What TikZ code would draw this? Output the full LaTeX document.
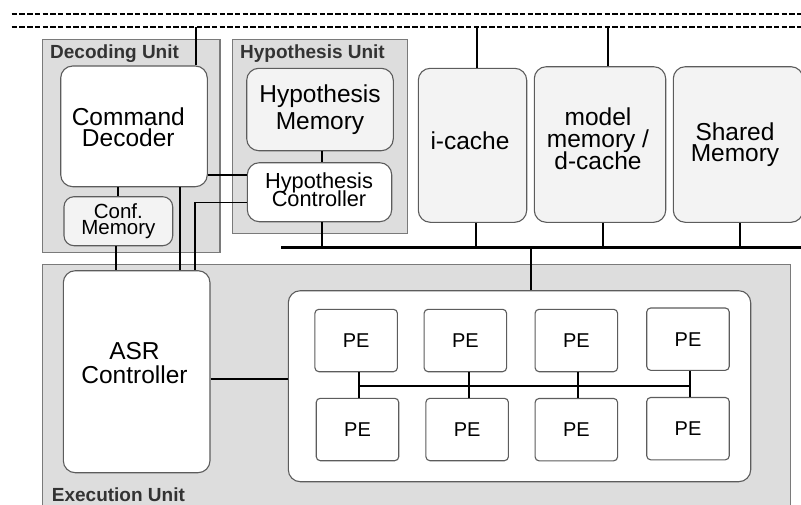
\documentclass[tikz,border=0pt]{standalone}
\usepackage{fontspec}
\setmainfont{Liberation Sans}
\definecolor{unitfill}{HTML}{DDDDDD}
\definecolor{unitline}{HTML}{7A7A7A}
\definecolor{lightfill}{HTML}{F3F3F3}
\definecolor{boxline}{HTML}{5C5C5C}
\definecolor{labelgray}{HTML}{333333}
\newcommand\txtsize[2]{\fontsize{#1}{#2}\selectfont\lineskiplimit=-100pt\relax}
\begin{document}
\begin{tikzpicture}[x=1pt,y=-1pt,
  unitbox/.style={draw=unitline,fill=unitfill,line width=1.1pt,inner sep=0pt},
  whitebox/.style={draw=boxline,fill=white,line width=1.1pt,rounded corners=#1,inner sep=0pt},
  whitebox/.default=12pt,
  lightbox/.style={draw=boxline,fill=lightfill,line width=1.1pt,rounded corners=#1,inner sep=0pt},
  lightbox/.default=12pt,
  pebox/.style={whitebox=4pt,minimum width=82.5pt,minimum height=62.4pt,font=\txtsize{20}{22}},
  txt/.style={align=center,inner sep=0pt},
  unitlabel/.style={anchor=base west,inner sep=0pt,text=labelgray,font=\fontsize{19}{22}\selectfont\bfseries},
  sysbus/.style={line width=2.9pt,dash pattern=on 5.4pt off 2.3pt},
  bus/.style={line width=2.5pt},
  link/.style={line width=2.2pt},
  thinlink/.style={line width=1.5pt}]
\useasboundingbox (0,0) rectangle (801,504);
\clip (0,0) rectangle (801,504);

% system bus (two dashed rails)
\coordinate (sysA1) at (11.7,14);
\coordinate (sysA2) at (801,14);
\coordinate (sysB1) at (11.7,27);
\coordinate (sysB2) at (801,27);
\draw[sysbus] (sysA1) -- (sysA2);
\draw[sysbus] (sysB1) -- (sysB2);

% unit frames
\node[unitbox,minimum width=177.3pt,minimum height=213pt] (decU) at (131.35,145.8) {};
\node[unitbox,minimum width=175pt,minimum height=194pt] (hypU) at (319.8,136.3) {};
\node[unitbox,minimum width=748pt,minimum height=255.3pt] (exeU) at (416.7,392.35) {};
\node[unitlabel] (decL) at (50,58.3) {Decoding Unit};
\node[unitlabel] (hypL) at (240,58.3) {Hypothesis Unit};
\node[unitlabel] (exeL) at (51.7,501.5) {Execution Unit};

% decoding unit
\node[whitebox,minimum width=146.6pt,minimum height=120.7pt] (cd) at (134,126.35) {};
\node[txt,font=\txtsize{24.5}{20.7}] (cdT) at (128.3,127.4) {Command\\Decoder};
\node[lightbox=10pt,minimum width=108.7pt,minimum height=49pt,txt,font=\txtsize{20.5}{16.7}] (cm) at (118.35,221.2) {Conf.\\Memory};

% hypothesis unit
\node[lightbox,minimum width=146.6pt,minimum height=82.4pt,txt,font=\txtsize{24.5}{27}] (hm) at (320,109.5) {Hypothesis\\Memory};
\node[whitebox,minimum width=144.4pt,minimum height=59pt] (hc) at (319.5,192.2) {};
\node[txt,font=\txtsize{21.8}{18.3}] (hcT) at (319,189.5) {Hypothesis\\Controller};

% memories
\node[lightbox,minimum width=108.4pt,minimum height=154pt] (ic) at (472.5,145.3) {};
\node[txt,font=\txtsize{24.5}{21}] (icT) at (470,141) {i-cache};
\node[lightbox,minimum width=131.4pt,minimum height=155.6pt] (mm) at (600,144.5) {};
\node[txt,font=\txtsize{24.5}{21.8}] (mmT) at (598,138.6) {model\\memory /\\d-cache};
\node[lightbox,minimum width=129.7pt,minimum height=155.6pt] (sm) at (738.15,144.5) {};
\node[txt,font=\txtsize{24.5}{21}] (smT) at (735,144.8) {Shared\\Memory};

% execution unit
\node[whitebox,minimum width=146.7pt,minimum height=202pt] (asr) at (136.65,371.7) {};
\node[txt,font=\txtsize{24.5}{24}] (asrT) at (134.5,363) {ASR\\Controller};
\node[whitebox,minimum width=462.4pt,minimum height=191pt] (pec) at (519.5,386.2) {};
\node[pebox] (p11) at (356.15,340.5) {PE};
\node[pebox] (p12) at (465.35,340.5) {PE};
\node[pebox] (p13) at (576.35,340.5) {PE};
\node[pebox] (p14) at (688,339.15) {PE};
\node[pebox] (p21) at (357.5,429.5) {PE};
\node[pebox] (p22) at (467.15,429.5) {PE};
\node[pebox] (p23) at (576.35,429.65) {PE};
\node[pebox] (p24) at (688,428.65) {PE};

% taps on the system bus
\draw[link] ([xshift=62pt]cd.north) -- ([xshift=62pt]cd.north |- sysB1);
\draw[link] ([xshift=4.8pt]ic.north) -- ([xshift=4.8pt]ic.north |- sysB1);
\draw[link] ([xshift=8.3pt]mm.north) -- ([xshift=8.3pt]mm.north |- sysB1);

% local bus
\coordinate (busL) at (281,247.3);
\coordinate (busR) at (801,247.3);
\draw[bus] (busL) -- (busR);
\draw[link] ([xshift=2.2pt]hc.south) -- ([xshift=2.2pt]hc.south |- busL);
\draw[link] ([xshift=3.5pt]ic.south) -- ([xshift=3.5pt]ic.south |- busL);
\draw[link] ([xshift=2.7pt]mm.south) -- ([xshift=2.7pt]mm.south |- busL);
\draw[link] ([xshift=1.85pt]sm.south) -- ([xshift=1.85pt]sm.south |- busL);
\draw[link] ([xshift=11.2pt]pec.north) -- ([xshift=11.2pt]pec.north |- busL);

% unit internal links
\draw[link] ([xshift=1.7pt]hm.south) -- ([xshift=1.7pt]hm.south |- hc.north);
\draw[link] (cm.north) -- (cm.north |- cd.south);
\draw[link] ([xshift=-2.35pt]cm.south) -- ([xshift=-2.35pt]cm.south |- asr.north);
\draw[thinlink] ([xshift=46pt]cd.south) -- ([xshift=46pt]cd.south |- asr.north);
\draw[thinlink] ([yshift=-48.65pt]cd.east) -- ([yshift=-48.65pt]cd.east -| hc.west);
\draw[thinlink] ([yshift=-10.5pt]hc.west) -| ([xshift=58.35pt]asr.north);
\draw[thinlink] ([yshift=-7.3pt]asr.east) -- ([yshift=-7.3pt]asr.east -| pec.west);

% PE interconnect
\coordinate (peY) at (0,386);
\draw[bus] ([xshift=3.15pt]p11.south |- peY) -- ([xshift=2pt]p14.south |- peY);
\draw[link] ([xshift=3.15pt]p11.south) -- ([xshift=3.15pt]p11.south |- p21.north);
\draw[link] ([xshift=3.95pt]p12.south) -- ([xshift=3.95pt]p12.south |- p22.north);
\draw[link] ([xshift=1.95pt]p13.south) -- ([xshift=1.95pt]p13.south |- p23.north);
\draw[link] ([xshift=2pt]p14.south) -- ([xshift=2pt]p14.south |- p24.north);
\end{tikzpicture}
\end{document}
